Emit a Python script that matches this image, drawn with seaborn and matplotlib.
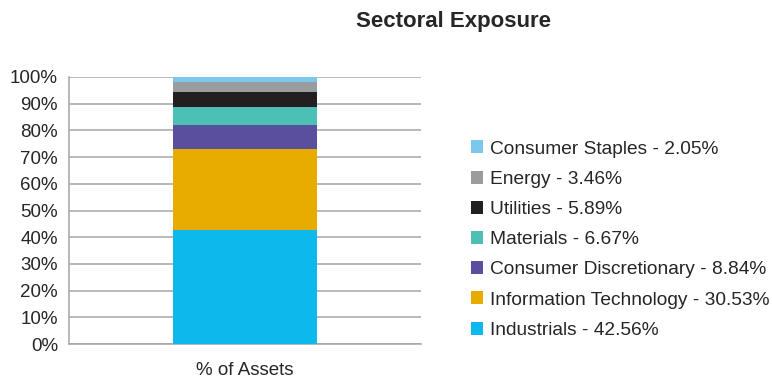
import numpy as np
import pandas as pd
import seaborn as sns
import matplotlib.pyplot as plt
from matplotlib.patches import Patch

# sectors, bottom of the stack first
sectors = ['Industrials', 'Information Technology', 'Consumer Discretionary',
           'Materials', 'Utilities', 'Energy', 'Consumer Staples']
weights = [42.56, 30.53, 8.84, 6.67, 5.89, 3.46, 2.05]
colors = ['#0DB9EC', '#E8AB00', '#5A4E9F', '#4CC0B4', '#231F20', '#9B9C9E', '#7BC8EC']
category = ['% of Assets']

sns.set_style('white')
plt.rcParams['font.family'] = ['Liberation Sans', 'DejaVu Sans']

df = pd.DataFrame({'sector': sectors, 'weight': weights, 'color': colors})
df['top'] = df['weight'].cumsum()

fig = plt.figure(figsize=(7.72, 3.78), dpi=100)
ax = fig.add_axes([0.0894, 0.0899, 0.4559, 0.7064])

# stacked bar: draw the cumulative totals from the top layer down
for _, row in df.iloc[::-1].iterrows():
    sns.barplot(x=category, y=[row['top']], color=row['color'], width=1.0,
                saturation=1, linewidth=0, ax=ax, zorder=3)

ax.set_ylim(0, 100)
ax.set_xlim(-1.23, 1.23)
ax.set_yticks(np.arange(0, 101, 10))
ax.set_yticklabels([f'{v}%' for v in range(0, 101, 10)])
ax.yaxis.grid(True, color='#A6A6A6', linewidth=1.1, zorder=0)
ax.set_axisbelow(True)
for s in ['top', 'right']:
    ax.spines[s].set_visible(False)
for s in ['left', 'bottom']:
    ax.spines[s].set_color('#A6A6A6')
    ax.spines[s].set_linewidth(1.1)
ax.tick_params(axis='both', length=0, labelsize=13.5, labelcolor='#262626')
ax.tick_params(axis='y', pad=8)
ax.tick_params(axis='x', pad=13)
ax.set_xlabel('')
ax.set_ylabel('')

fig.text(0.587, 0.942, 'Sectoral Exposure', ha='center', va='center',
         fontsize=16, fontweight='bold', color='#262626')

handles = [Patch(facecolor=c, edgecolor='none') for c in colors[::-1]]
labels = [f'{s} - {w:.2f}%' for s, w in zip(sectors[::-1], weights[::-1])]
fig.legend(handles, labels, loc='center left', bbox_to_anchor=(0.5875, 0.366),
           frameon=False, fontsize=13.8, handlelength=0.66, handleheight=0.66,
           handletextpad=0.36, labelspacing=0.68, labelcolor='#262626')

fig.savefig('out.png', dpi=100)
